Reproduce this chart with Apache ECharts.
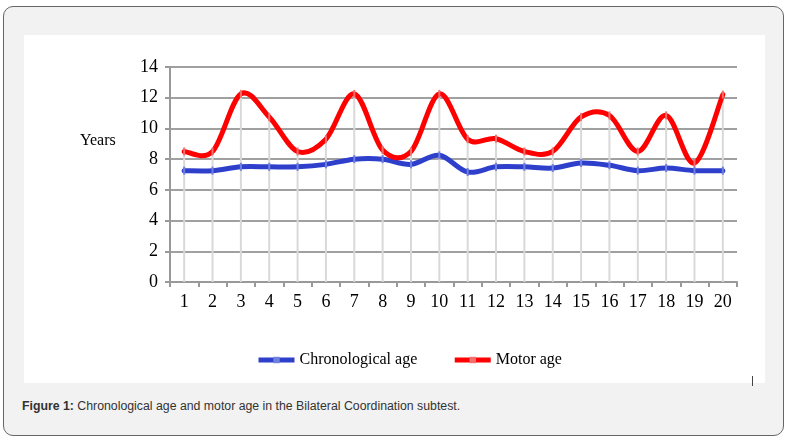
<!DOCTYPE html>
<html>
<head>
<meta charset="utf-8">
<script src="https://cdn.jsdelivr.net/npm/echarts@6/dist/echarts.min.js"></script>
<style>
  html, body { margin: 0; padding: 0; background: #fff; }
  #frame {
    position: absolute; left: 3px; top: 6px; width: 781px; height: 430px;
    background: #f2f2f2; border: 1px solid #666; border-radius: 10px; box-sizing: border-box;
  }
  #main { position: absolute; left: 24px; top: 35px; width: 741px; height: 348px; background: #fff; }
  #caption {
    position: absolute; left: 22px; top: 399px;
    font-family: "Liberation Sans", Arial, sans-serif; font-size: 12.3px; color: #333;
  }
  #mark { position: absolute; left: 752px; top: 376px; width: 1px; height: 10px; background: #444; }
</style>
</head>
<body>
<div id="frame"></div>
<div id="main"></div>
<div id="mark"></div>
<div id="caption"><b>Figure 1:</b> Chronological age and motor age in the Bilateral Coordination subtest.</div>
<script>
// 数据
var subjects = ['1','2','3','4','5','6','7','8','9','10','11','12','13','14','15','16','17','18','19','20'];
var chronoAge = [7.25, 7.25, 7.5, 7.5, 7.5, 7.66, 8.0, 8.0, 7.66, 8.25, 7.16, 7.5, 7.5, 7.42, 7.75, 7.6, 7.25, 7.42, 7.25, 7.25];
var motorAge = [8.5, 8.5, 12.25, 10.75, 8.5, 9.3, 12.25, 8.6, 8.5, 12.25, 9.3, 9.33, 8.5, 8.5, 10.75, 10.85, 8.5, 10.85, 7.75, 12.2];
var yTicks = { min: 0, max: 14, interval: 2 };

var serif = '"Liberation Serif", "Times New Roman", serif';
var blue = '#2e3fcc', red = '#ff0000';

// 垂线:取两条线中较高的值
var dropData = motorAge.map(function (v, i) { return Math.max(v, chronoAge[i]); });

// Excel 式平滑曲线 (Catmull-Rom),用坐标系换算每个点
function splineSeries(values, color) {
    return {
        type: 'custom',
        silent: true,
        data: values.map(function (v, i) { return [i, v]; }),
        z: 3,
        renderItem: function (params, api) {
            if (params.dataIndex !== 0) return null;
            var p = values.map(function (v, i) { return api.coord([i, v]); });
            var d = 'M' + p[0][0] + ' ' + p[0][1];
            for (var i = 0; i < p.length - 1; i++) {
                var p0 = p[Math.max(i - 1, 0)], p1 = p[i], p2 = p[i + 1], p3 = p[Math.min(i + 2, p.length - 1)];
                var c1x = p1[0] + (p2[0] - p0[0]) / 6, c1y = p1[1] + (p2[1] - p0[1]) / 6;
                var c2x = p2[0] - (p3[0] - p1[0]) / 6, c2y = p2[1] - (p3[1] - p1[1]) / 6;
                d += ' C' + c1x + ' ' + c1y + ' ' + c2x + ' ' + c2y + ' ' + p2[0] + ' ' + p2[1];
            }
            return {
                type: 'path',
                shape: { pathData: d },
                style: { stroke: color, lineWidth: 5, fill: null, lineCap: 'round', lineJoin: 'round' }
            };
        }
    };
}

var myChart = echarts.init(document.getElementById('main'));
myChart.setOption({
    animation: false,
    grid: { left: 146, right: 28, top: 32, bottom: 101 },
    legend: {
        data: [
            { name: 'Chronological age', lineStyle: { opacity: 1, color: blue, width: 5 } },
            { name: 'Motor age', lineStyle: { opacity: 1, color: red, width: 5 } }
        ],
        left: 227, top: 312,
        itemWidth: 36, itemHeight: 8, itemGap: 35,
        textStyle: { fontFamily: serif, fontSize: 16, color: '#000' }
    },
    graphic: [{
        type: 'text', left: 56, top: 98,
        style: { text: 'Years', font: '16px ' + serif, fill: '#000' }
    }],
    xAxis: {
        type: 'category',
        data: subjects,
        boundaryGap: true,
        axisLine: { lineStyle: { color: '#999', width: 2 } },
        axisTick: { show: true, length: 5, lineStyle: { color: '#999', width: 2 } },
        axisLabel: { fontFamily: serif, fontSize: 18, color: '#000', margin: 11 },
        splitLine: { show: false }
    },
    yAxis: {
        type: 'value',
        min: yTicks.min, max: yTicks.max, interval: yTicks.interval,
        axisLine: { show: true, lineStyle: { color: '#999', width: 2 } },
        axisTick: { show: true, length: 5, lineStyle: { color: '#999', width: 2 } },
        axisLabel: { fontFamily: serif, fontSize: 18, color: '#000', margin: 12 },
        splitLine: { show: true, lineStyle: { color: '#a0a0a0', width: 2 } }
    },
    series: [
        {
            name: 'drop',
            type: 'bar',
            data: dropData,
            barWidth: 2,
            silent: true,
            itemStyle: { color: '#d9d9d9' },
            z: 1
        },
        splineSeries(chronoAge, blue),
        splineSeries(motorAge, red),
        {
            name: 'Chronological age',
            type: 'line',
            data: chronoAge,
            symbol: 'rect',
            symbolSize: [2, 8],
            lineStyle: { color: blue, width: 5, opacity: 0 },
            itemStyle: { color: '#7080e0' },
            z: 5
        },
        {
            name: 'Motor age',
            type: 'line',
            data: motorAge,
            symbol: 'rect',
            symbolSize: [2, 8],
            lineStyle: { color: red, width: 5, opacity: 0 },
            itemStyle: { color: '#f07070' },
            z: 5
        }
    ]
});
</script>
</body>
</html>
